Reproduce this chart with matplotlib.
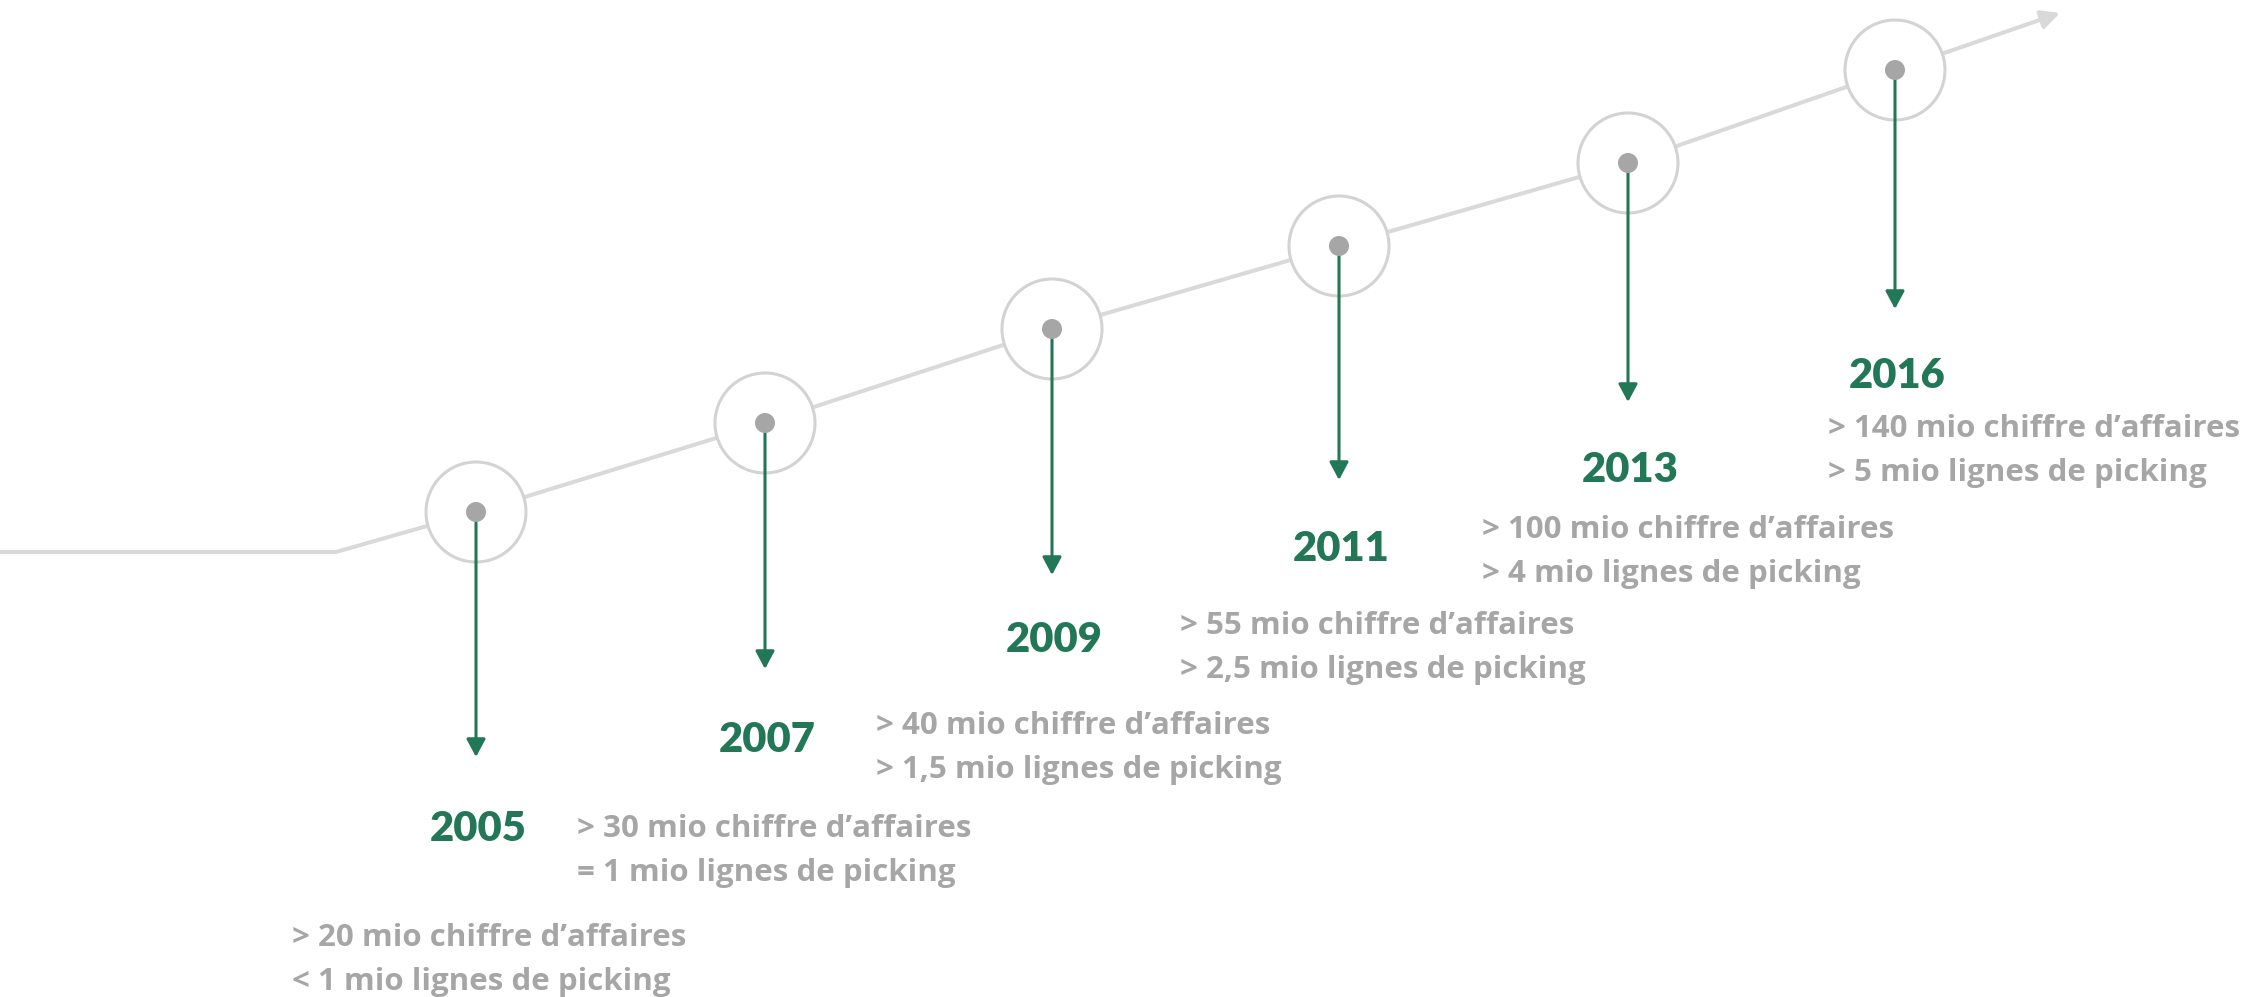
import matplotlib
matplotlib.use("Agg")
import matplotlib.pyplot as plt
from matplotlib.patches import Circle, FancyArrowPatch

# ---- data ----
years = ["2005", "2007", "2009", "2011", "2013", "2016"]
revenue = ["> 20 mio chiffre d\u2019affaires", "> 30 mio chiffre d\u2019affaires",
           "> 40 mio chiffre d\u2019affaires", "> 55 mio chiffre d\u2019affaires",
           "> 100 mio chiffre d\u2019affaires", "> 140 mio chiffre d\u2019affaires"]
picking = ["< 1 mio lignes de picking", "= 1 mio lignes de picking",
           "> 1,5 mio lignes de picking", "> 2,5 mio lignes de picking",
           "> 4 mio lignes de picking", "> 5 mio lignes de picking"]

# ---- layout (pixel coordinates, y downwards) ----
node_x = [476, 765, 1052, 1339, 1628, 1895]
node_y = [512, 423, 329, 246, 163, 70]
arrow_tip_y = [757, 669, 575, 480, 402, 309]
year_base_y = [841, 752, 652, 561, 482, 388]
block_x = [292, 577, 876, 1180, 1482, 1828]
block_base_y = [946, 837, 734, 634, 538, 437]
line_gap = 44

GREEN = "#217756"
TEXTGRAY = "#A6A6A6"
LINEGRAY = "#D9D9D9"
YEAR_FONT = "Lato"
DESC_FONT = "Open Sans"

W, H = 2241, 997
fig = plt.figure(figsize=(W / 100, H / 100), dpi=100)
ax = fig.add_axes([0, 0, 1, 1])
ax.set_xlim(0, W)
ax.set_ylim(H, 0)
ax.axis("off")

# timeline
lx = [0, 336] + node_x
ly = [552, 552] + node_y
ax.plot(lx, ly, color=LINEGRAY, lw=2.9, solid_capstyle="butt", zorder=1)
ax.add_patch(FancyArrowPatch((node_x[-1], node_y[-1]), (2060, 13),
                             arrowstyle="-|>,head_length=0.7,head_width=0.35",
                             mutation_scale=16, color=LINEGRAY, lw=2.9,
                             shrinkA=0, shrinkB=0, zorder=1))

for i in range(len(years)):
    x, y = node_x[i], node_y[i]
    ax.add_patch(Circle((x, y), 50, facecolor="white", edgecolor="#D3D3D3",
                        lw=2.2, zorder=2))
    ax.add_patch(FancyArrowPatch((x, y), (x, arrow_tip_y[i]),
                                 arrowstyle="-|>,head_length=0.6,head_width=0.32",
                                 mutation_scale=18, color=GREEN, lw=2.2,
                                 shrinkA=0, shrinkB=0, zorder=3))
    ax.add_patch(Circle((x, y), 10, facecolor="#A6A6A6", edgecolor="none", zorder=4))
    ax.text(x + 2, year_base_y[i], years[i], ha="center", va="baseline",
            fontsize=30, fontweight="heavy", color=GREEN, family=YEAR_FONT)
    ax.text(block_x[i], block_base_y[i], revenue[i], ha="left", va="baseline",
            fontsize=22.5, fontweight="bold", color=TEXTGRAY, family=DESC_FONT)
    ax.text(block_x[i], block_base_y[i] + line_gap, picking[i], ha="left",
            va="baseline", fontsize=22.5, fontweight="bold", color=TEXTGRAY,
            family=DESC_FONT)

fig.savefig("out.png", dpi=100, facecolor="white")
